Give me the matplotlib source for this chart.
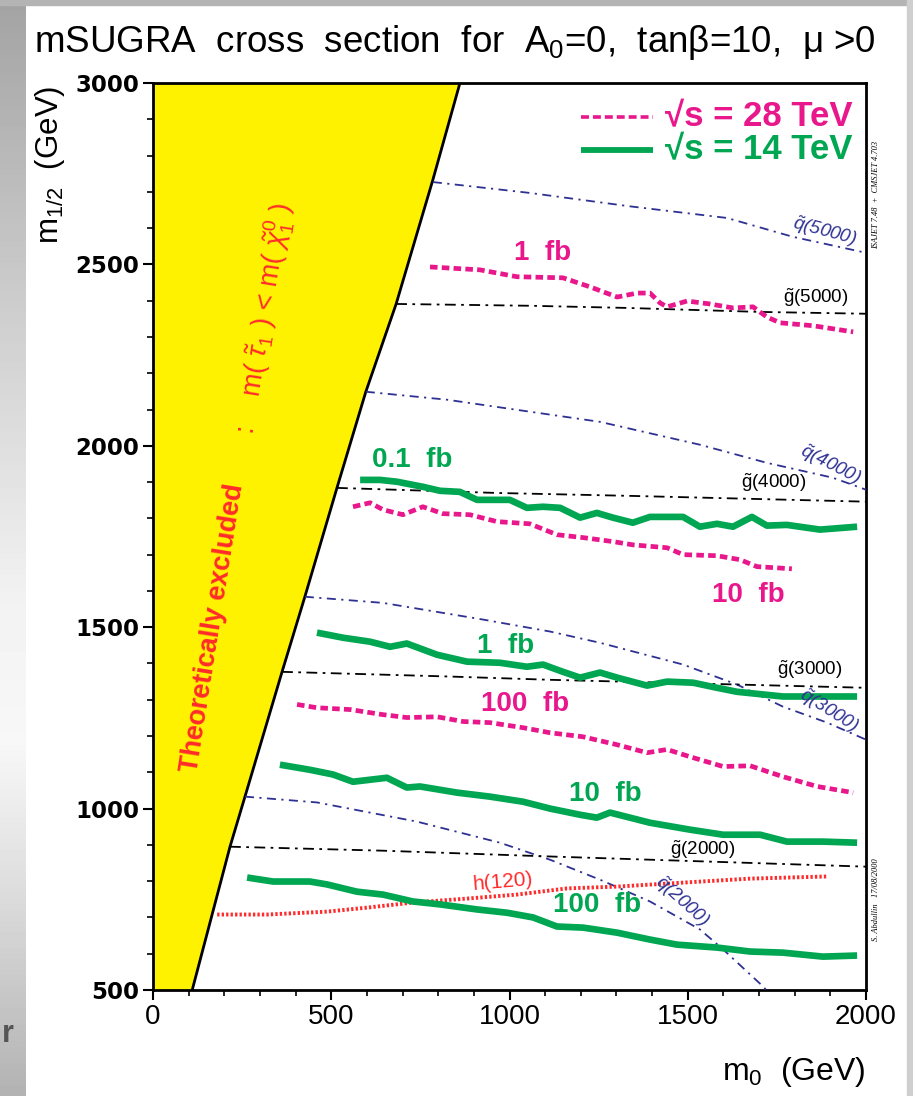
import numpy as np
import matplotlib
matplotlib.use("Agg")
import matplotlib.pyplot as plt
from matplotlib import font_manager

# ---------------- data ----------------
# excluded region boundary (m0 vs m1/2)
excl_m0 = [110, 216, 258, 362, 426, 516, 597, 682, 785, 861]
excl_m12 = [500, 895, 1033, 1377, 1584, 1884, 2149, 2391, 2733, 3000]

# 28 TeV reach curves (magenta, dashed)
s28_1fb_m0 = [777, 917, 1021, 1150, 1226, 1302, 1358, 1394, 1422, 1442, 1498, 1562, 1627, 1683, 1722, 1759, 1851, 1964]
s28_1fb_m12 = [2493, 2485, 2466, 2463, 2438, 2410, 2421, 2421, 2394, 2383, 2399, 2391, 2380, 2383, 2355, 2339, 2331, 2314]
s28_10fb_m0 = [561, 609, 645, 701, 757, 813, 889, 965, 1057, 1133, 1206, 1290, 1346, 1442, 1487, 1582, 1647, 1694, 1792]
s28_10fb_m12 = [1832, 1843, 1824, 1810, 1832, 1813, 1810, 1791, 1785, 1755, 1747, 1736, 1727, 1719, 1700, 1697, 1686, 1667, 1661]
s28_100fb_m0 = [404, 460, 553, 645, 712, 797, 870, 945, 1038, 1114, 1206, 1302, 1386, 1442, 1506, 1599, 1675, 1767, 1863, 1964]
s28_100fb_m12 = [1287, 1278, 1273, 1259, 1251, 1253, 1240, 1237, 1223, 1209, 1198, 1176, 1154, 1163, 1143, 1116, 1118, 1088, 1061, 1044]

# 14 TeV reach curves (green, solid)
s14_01fb_m0 = [581, 637, 684, 757, 805, 861, 909, 1001, 1049, 1094, 1142, 1198, 1245, 1290, 1346, 1394, 1487, 1534, 1582, 1627, 1680, 1722, 1778, 1871, 1975]
s14_01fb_m12 = [1906, 1906, 1901, 1887, 1876, 1873, 1851, 1851, 1829, 1832, 1829, 1802, 1815, 1802, 1788, 1804, 1804, 1777, 1785, 1777, 1804, 1780, 1782, 1769, 1777]
s14_1fb_m0 = [460, 533, 609, 665, 712, 797, 881, 973, 1049, 1094, 1150, 1198, 1254, 1302, 1386, 1442, 1515, 1582, 1638, 1767, 1863, 1975]
s14_1fb_m12 = [1485, 1471, 1460, 1446, 1455, 1424, 1405, 1402, 1391, 1397, 1377, 1361, 1375, 1361, 1339, 1350, 1347, 1333, 1322, 1309, 1309, 1309]
s14_10fb_m0 = [356, 440, 505, 561, 656, 712, 749, 853, 945, 1038, 1114, 1198, 1245, 1282, 1394, 1506, 1599, 1703, 1778, 1879, 1975]
s14_10fb_m12 = [1121, 1107, 1094, 1074, 1085, 1058, 1061, 1044, 1033, 1019, 1000, 983, 975, 989, 961, 942, 928, 928, 909, 909, 906]
s14_100fb_m0 = [264, 337, 440, 488, 572, 645, 729, 805, 909, 993, 1066, 1133, 1206, 1302, 1394, 1470, 1582, 1675, 1767, 1879, 1975]
s14_100fb_m12 = [810, 799, 799, 791, 771, 763, 744, 736, 722, 713, 700, 675, 672, 658, 639, 625, 617, 606, 603, 592, 595]

# light Higgs contour h(120)
h120_m0 = [180, 320, 488, 600, 729, 881, 1021, 1161, 1302, 1487, 1675, 1893]
h120_m12 = [708, 708, 716, 727, 741, 752, 763, 780, 785, 796, 807, 813]

# squark iso-mass contours (blue dash-dot)
q5000_m0 = [785, 1057, 1338, 1610, 1795, 2000]
q5000_m12 = [2727, 2697, 2660, 2628, 2576, 2532]
q4000_m0 = [597, 825, 1057, 1254, 1534, 1722, 1907, 2000]
q4000_m12 = [2149, 2127, 2094, 2066, 2003, 1953, 1912, 1879]
q3000_m0 = [426, 645, 926, 1114, 1254, 1487, 1638, 1767, 1891, 2000]
q3000_m12 = [1584, 1567, 1521, 1488, 1457, 1397, 1342, 1281, 1237, 1190]
q2000_m0 = [258, 460, 741, 973, 1114, 1254, 1394, 1534, 1599, 1711, 1720]
q2000_m12 = [1033, 1017, 964, 906, 859, 804, 744, 667, 612, 510, 500]

# gluino iso-mass contours (black dash-dot)
g5000_m0 = [682, 1057, 1330, 1703, 2000]
g5000_m12 = [2391, 2386, 2380, 2369, 2364]
g4000_m0 = [516, 965, 1338, 2000]
g4000_m12 = [1884, 1870, 1862, 1846]
g3000_m0 = [362, 833, 1114, 2000]
g3000_m12 = [1377, 1364, 1355, 1333]
g2000_m0 = [216, 645, 1114, 2000]
g2000_m12 = [895, 884, 868, 840]

x_ticks = [0, 500, 1000, 1500, 2000]
y_ticks = [500, 1000, 1500, 2000, 2500, 3000]

# left slide-border gradient (gray level by row fraction)
border_rows = [0.0, 0.27, 0.55, 0.68, 0.82, 1.0]
border_gray = [0.64, 0.80, 0.95, 0.97, 0.86, 0.70]

# ---------------- styling ----------------
names = {f.name for f in font_manager.fontManager.ttflist}
SANS = "Liberation Sans" if "Liberation Sans" in names else "DejaVu Sans"
SERIF = "Liberation Serif" if "Liberation Serif" in names else "DejaVu Serif"
plt.rcParams["font.family"] = [SANS, "DejaVu Sans"]
plt.rcParams["mathtext.fontset"] = "custom"
plt.rcParams["mathtext.rm"] = SANS
plt.rcParams["mathtext.it"] = SANS + ":italic"
plt.rcParams["mathtext.bf"] = SANS + ":bold"

MAG = "#E8178C"
GRN = "#00A651"
BLU = "#2E3192"
RED = "#FF2B2B"
YEL = "#FFF200"

W, H = 913, 1096
fig = plt.figure(figsize=(W / 100, H / 100), dpi=100)
fig.patch.set_facecolor("white")

# slide border pieces
bax = fig.add_axes([0, 0, 25 / W, 1], zorder=-5)
rows = np.linspace(0, 1, 200)
grad = np.interp(rows, border_rows, border_gray)[:, None]
bax.imshow(grad, cmap="gray", vmin=0, vmax=1, aspect="auto", extent=[0, 1, 1, 0])
bax.axis("off")
fig.patches.append(plt.Rectangle((0, 1 - 5 / H), 1, 5 / H, transform=fig.transFigure,
                                 color="#b4b4b4", zorder=-4))
fig.patches.append(plt.Rectangle((907 / W, 0), 6 / W, 1, transform=fig.transFigure,
                                 color="#cfcfcf", zorder=-4))
fig.text(2 / W, 1 - 1042 / H, "r", fontsize=22, fontweight="bold", color="#555555",
         ha="left", va="baseline")

ax = fig.add_axes([153 / W, 106 / H, 713 / W, 907 / H])
ax.set_xlim(0, 2000)
ax.set_ylim(500, 3000)

# excluded region
ax.fill_betweenx(excl_m12, 0, excl_m0, color=YEL, zorder=1, lw=0)
ax.plot(excl_m0, excl_m12, color="black", lw=2, zorder=2)

# iso-mass contours
qstyle = dict(color=BLU, lw=1.3, ls=(0, (5, 3, 1.2, 3)), zorder=3)
gstyle = dict(color="black", lw=1.3, ls=(0, (6, 3, 1.5, 3)), zorder=3)
for xs, ys in [(q5000_m0, q5000_m12), (q4000_m0, q4000_m12), (q3000_m0, q3000_m12), (q2000_m0, q2000_m12)]:
    ax.plot(xs, ys, **qstyle)
for xs, ys in [(g5000_m0, g5000_m12), (g4000_m0, g4000_m12), (g3000_m0, g3000_m12), (g2000_m0, g2000_m12)]:
    ax.plot(xs, ys, **gstyle)

# Higgs contour
ax.plot(h120_m0, h120_m12, color=RED, lw=2.8, ls=(0, (0.6, 0.55)), zorder=4)

# reach curves
mstyle = dict(color=MAG, lw=3.4, ls=(0, (1.6, 0.9)), zorder=5)
gr = dict(color=GRN, lw=4.8, solid_capstyle="butt", zorder=6)
for xs, ys in [(s28_1fb_m0, s28_1fb_m12), (s28_10fb_m0, s28_10fb_m12), (s28_100fb_m0, s28_100fb_m12)]:
    ax.plot(xs, ys, **mstyle)
for xs, ys in [(s14_01fb_m0, s14_01fb_m12), (s14_1fb_m0, s14_1fb_m12), (s14_10fb_m0, s14_10fb_m12), (s14_100fb_m0, s14_100fb_m12)]:
    ax.plot(xs, ys, **gr)

# curve labels
lab = dict(fontsize=20, fontweight="bold", ha="center", va="center", zorder=7)
ax.text(1094, 2532, "1  fb", color=MAG, **lab)
ax.text(727, 1961, "0.1  fb", color=GRN, **lab)
ax.text(1669, 1590, "10  fb", color=MAG, **lab)
ax.text(990, 1449, "1  fb", color=GRN, **lab)
ax.text(1043, 1289, "100  fb", color=MAG, **lab)
ax.text(1268, 1039, "10  fb", color=GRN, **lab)
ax.text(1245, 735, "100  fb", color=GRN, **lab)

ax.text(982, 798, "h(120)", color=RED, fontsize=15, rotation=5, ha="center", va="center",
        rotation_mode="anchor", zorder=7)

glab = dict(color="black", fontsize=13.5, ha="center", va="center", zorder=7)
ax.text(1860, 2408, r"$\tilde{\mathrm{g}}$(5000)", **glab)
ax.text(1742, 1898, r"$\tilde{\mathrm{g}}$(4000)", **glab)
ax.text(1843, 1383, r"$\tilde{\mathrm{g}}$(3000)", **glab)
ax.text(1543, 887, r"$\tilde{\mathrm{g}}$(2000)", **glab)

qlab = dict(color=BLU, fontsize=13.5, style="italic", ha="center", va="center",
            rotation_mode="anchor", zorder=7)
ax.text(1885, 2590, r"$\tilde{q}$(5000)", rotation=-15, **qlab)
ax.text(1899, 1948, r"$\tilde{q}$(4000)", rotation=-27, **qlab)
ax.text(1896, 1270, r"$\tilde{q}$(3000)", rotation=-32, **qlab)
ax.text(1484, 744, r"$\tilde{q}$(2000)", rotation=-42, **qlab)

# theoretically excluded label
ax.text(168, 1499, "Theoretically excluded", color=RED, fontsize=19.5, fontweight="bold",
        rotation=81, ha="center", va="center", rotation_mode="anchor", zorder=7)
ax.text(315, 2350, r":    m( $\tilde{\tau}_1$ ) < m( $\tilde{\chi}^0_1$ )", color=RED, fontsize=20,
        rotation=81, ha="center", va="center", rotation_mode="anchor", zorder=7)

# legend (drawn by hand)
lx0, lx1 = 1200, 1402
ax.plot([lx0, lx1], [2907, 2907], color=MAG, lw=2.6, ls=(0, (2.2, 1.1)), zorder=7)
ax.plot([lx0, lx1], [2815, 2815], color=GRN, lw=4.2, solid_capstyle="butt", zorder=7)
ax.text(1437, 2907, "√s = 28 TeV", color=MAG, fontsize=25, fontweight="bold", va="center", ha="left")
ax.text(1437, 2815, "√s = 14 TeV", color=GRN, fontsize=25, fontweight="bold", va="center", ha="left")

# axes cosmetics
for s in ax.spines.values():
    s.set_linewidth(2)
ax.set_xticks(x_ticks)
ax.set_yticks(y_ticks)
ax.set_xticks(np.arange(0, 2001, 100), minor=True)
ax.set_yticks(np.arange(500, 3001, 100), minor=True)
ax.tick_params(axis="both", which="major", direction="out", length=7, width=1.5)
ax.tick_params(axis="both", which="minor", direction="out", length=4, width=1.2)
ax.tick_params(axis="x", which="major", pad=3, labelsize=20)
ax.tick_params(axis="y", which="major", pad=3)
for t in ax.get_yticklabels():
    t.set_fontfamily("DejaVu Sans")
    t.set_fontweight("bold")
    t.set_fontsize(16.5)

fig.text(455 / W, 1 - 52 / H, r"mSUGRA  cross  section  for  A$_0$=0,  tanβ=10,  μ >0",
         fontsize=26.5, ha="center", va="baseline")
fig.text(865 / W, 1 - 1080 / H, r"m$_0$  (GeV)", fontsize=23, ha="right", va="baseline")
fig.text(50 / W, 1 - 165 / H, r"m$_{1/2}$  (GeV)", fontsize=22.5, rotation=90, ha="center", va="center")

fig.text(876 / W, 1 - 195 / H, "ISAJET 7.48  +  CMSJET 4.703", family=SERIF, style="italic",
         fontsize=6, rotation=90, ha="center", va="center")
fig.text(876 / W, 1 - 900 / H, "S. Abdullin   17/08/2000", family=SERIF, style="italic",
         fontsize=6, rotation=90, ha="center", va="center")

fig.savefig("out.png", dpi=100)
